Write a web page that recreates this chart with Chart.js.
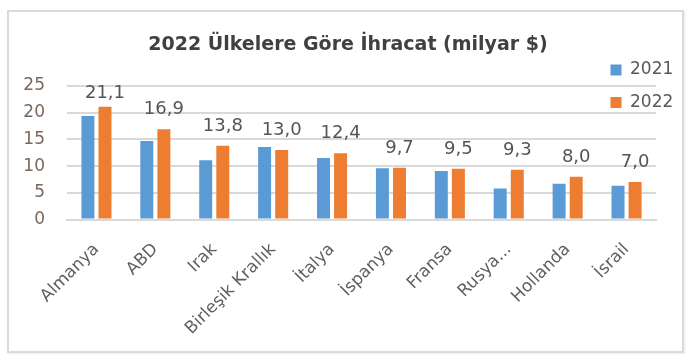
<!DOCTYPE html>
<html><head><meta charset="utf-8">
<script src="https://cdn.jsdelivr.net/npm/chart.js@4.4.1/dist/chart.umd.min.js"></script>
<style>
html,body{margin:0;padding:0;background:#fff;}
#wrap{position:relative;width:698px;height:359px;overflow:hidden;}
#frame{position:absolute;left:7px;top:10px;width:677px;height:343px;box-sizing:border-box;border:2px solid #dadada;box-shadow:1px 1px 2px rgba(0,0,0,0.08);}
canvas{position:absolute;left:0;top:0;}
</style></head><body>
<div id="wrap"><div id="frame"></div><canvas id="c" width="698" height="359"></canvas></div>
<script>
const titleText = '2022 Ülkelere Göre İhracat (milyar $)';
const categories = ['Almanya', 'ABD', 'Irak', 'Birleşik Krallık', 'İtalya', 'İspanya', 'Fransa', 'Rusya...', 'Hollanda', 'İsrail'];
const seriesNames = ['2021', '2022'];
const values2021 = [19.4, 14.7, 11.1, 13.6, 11.5, 9.6, 9.1, 5.8, 6.7, 6.3];
const values2022 = [21.1, 16.9, 13.8, 13.0, 12.4, 9.7, 9.5, 9.3, 8.0, 7.0];
const yMin = 0, yMax = 25, yStep = 5;

const FONT = "'DejaVu Sans', sans-serif";
const fmt = v => v.toFixed(1).replace('.', ',');

const dataLabelPlugin = {
  id: 'dataLabels2022',
  afterDatasetsDraw(chart) {
    const meta = chart.getDatasetMeta(1);
    const ctx = chart.ctx;
    ctx.save();
    ctx.font = '18px ' + FONT;
    ctx.fillStyle = '#555555';
    ctx.textAlign = 'center';
    ctx.textBaseline = 'alphabetic';
    meta.data.forEach((bar, i) => {
      const y = Math.max(bar.y - 15, chart.chartArea.top + 12);
      ctx.fillText(fmt(chart.data.datasets[1].data[i]), bar.x, y);
    });
    ctx.restore();
  }
};

const boxPlacer = {
  id: 'boxPlacer',
  afterLayout(chart) {
    const lg = chart.legend;
    if (lg) {
      const w = lg.width, h = lg.height;
      lg.left = 595; lg.top = 46;
      lg.right = lg.left + w; lg.bottom = lg.top + h;
    }
    const tb = chart.titleBlock;
    if (tb) {
      tb.left = 40; tb.right = 656; tb.width = tb.right - tb.left;
    }
  }
};

new Chart(document.getElementById('c'), {
  type: 'bar',
  data: {
    labels: categories,
    datasets: [
      { label: seriesNames[0], data: values2021, backgroundColor: '#5B9BD5', categoryPercentage: 0.58, barPercentage: 0.76 },
      { label: seriesNames[1], data: values2022, backgroundColor: '#ED7D31', categoryPercentage: 0.58, barPercentage: 0.76 }
    ]
  },
  options: {
    responsive: false,
    animation: false,
    layout: { padding: { left: 0, right: 42, top: 33.5, bottom: 0 } },
    plugins: {
      title: {
        display: true, text: titleText, color: '#404040',
        font: { family: FONT, size: 19, weight: 'bold' },
        padding: { top: 0, bottom: 29.7 }
      },
      legend: {
        display: true, position: 'chartArea', align: 'start',
        labels: { color: '#595959', font: { family: FONT, size: 17 }, boxWidth: 11, boxHeight: 11, padding: 15.5 }
      },
      tooltip: { enabled: false }
    },
    scales: {
      x: {
        grid: { display: false, drawTicks: false },
        border: { display: true, color: '#d9d9d9', width: 2 },
        ticks: { color: '#5f5f5f', font: { family: FONT, size: 17 }, minRotation: 45, maxRotation: 45, padding: 20, autoSkip: false },
        afterFit: s => { s.height = 139.5; }
      },
      y: {
        min: yMin, max: yMax,
        grid: { color: '#d9d9d9', lineWidth: 2, drawTicks: false },
        border: { display: false },
        ticks: { stepSize: yStep, color: '#7a685d', font: { family: FONT, size: 17 }, padding: 22 },
        afterFit: s => { s.width = 67; }
      }
    }
  },
  plugins: [dataLabelPlugin, boxPlacer]
});
</script>
</body></html>
